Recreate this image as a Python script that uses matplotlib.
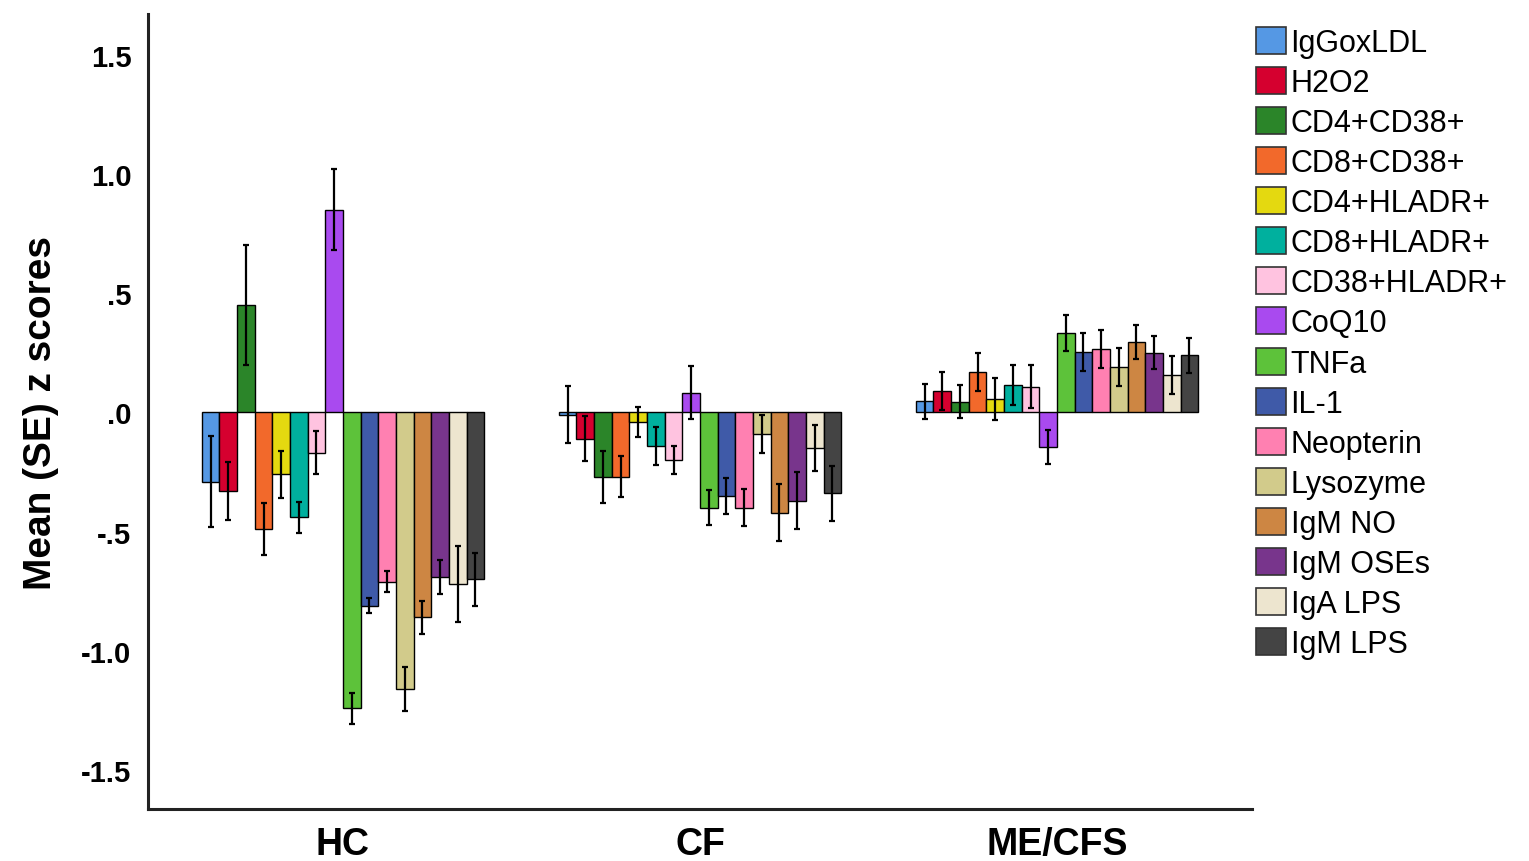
import numpy as np
import matplotlib
matplotlib.use('Agg')
import matplotlib.pyplot as plt
from matplotlib.patches import Patch

plt.rcParams['font.family'] = ['Liberation Sans', 'DejaVu Sans']

# 数据
groups = ['HC', 'CF', 'ME/CFS']
markers = ['IgGoxLDL', 'H2O2', 'CD4+CD38+', 'CD8+CD38+', 'CD4+HLADR+', 'CD8+HLADR+',
           'CD38+HLADR+', 'CoQ10', 'TNFa', 'IL-1', 'Neopterin', 'Lysozyme',
           'IgM NO', 'IgM OSEs', 'IgA LPS', 'IgM LPS']
colors = ['#5598E4', '#D5002F', '#2B8529', '#F2692B', '#E4D910', '#00B09E',
          '#FFC3E0', '#A94AEF', '#5DC23A', '#3F5AA8', '#FF80B1', '#D2CB8B',
          '#CD8643', '#78358C', '#EDE5CF', '#444444']

hc_mean = [-0.29, -0.33, 0.45, -0.49, -0.26, -0.44, -0.17, 0.85,
           -1.24, -0.81, -0.71, -1.16, -0.86, -0.69, -0.72, -0.70]
hc_se = [0.19, 0.12, 0.25, 0.11, 0.10, 0.066, 0.09, 0.17,
         0.065, 0.032, 0.043, 0.092, 0.07, 0.073, 0.16, 0.112]

cf_mean = [-0.01, -0.11, -0.27, -0.27, -0.04, -0.14, -0.20, 0.083,
           -0.40, -0.35, -0.40, -0.09, -0.42, -0.37, -0.15, -0.34]
cf_se = [0.12, 0.095, 0.11, 0.085, 0.063, 0.08, 0.06, 0.11,
         0.073, 0.075, 0.077, 0.08, 0.12, 0.12, 0.095, 0.115]

me_mean = [0.047, 0.089, 0.045, 0.169, 0.056, 0.114, 0.107, -0.145,
           0.334, 0.254, 0.265, 0.19, 0.295, 0.25, 0.156, 0.24]
me_se = [0.073, 0.08, 0.07, 0.08, 0.088, 0.084, 0.09, 0.073,
         0.075, 0.08, 0.08, 0.08, 0.07, 0.07, 0.08, 0.073]

yticks = [-1.5, -1.0, -0.5, 0.0, 0.5, 1.0, 1.5]
ytick_labels = ['-1.5', '-1.0', '-.5', '.0', '.5', '1.0', '1.5']

means = np.array([hc_mean, cf_mean, me_mean])
ses = np.array([hc_se, cf_se, me_se])

fig = plt.figure(figsize=(15.29, 8.62), dpi=100)
ax = fig.add_axes([0.0968, 0.0603, 0.7220, 0.9223])

n = len(markers)
group_w = 0.791
bar_w = group_w / n
x = np.arange(len(groups))

for i in range(n):
    pos = x - group_w / 2 + bar_w * (i + 0.5)
    ax.bar(pos, means[:, i], width=bar_w, color=colors[i], edgecolor='black',
           linewidth=1.0, zorder=2)
    ax.errorbar(pos, means[:, i], yerr=ses[:, i], fmt='none', ecolor='black',
                elinewidth=1.6, capsize=2, capthick=1.6, zorder=3)

ax.set_xlim(-0.546, 2.546)
ax.set_ylim(-1.663, 1.670)
ax.set_xticks(x)
ax.set_xticklabels(groups, fontsize=27, fontweight='bold')
ax.set_yticks(yticks)
ax.set_yticklabels(ytick_labels, fontsize=21, fontweight='bold')
ax.tick_params(axis='both', length=0)
ax.tick_params(axis='x', pad=12)
ax.tick_params(axis='y', pad=12)
ax.set_ylabel('Mean (SE) z scores', fontsize=28, fontweight='bold', labelpad=16)

for s in ['top', 'right']:
    ax.spines[s].set_visible(False)
for s in ['left', 'bottom']:
    ax.spines[s].set_linewidth(2.2)
    ax.spines[s].set_color('#222222')

handles = [Patch(facecolor=c, edgecolor='#333333', linewidth=1.2) for c in colors]
fig.legend(handles, markers, loc='upper left', bbox_to_anchor=(0.8215, 0.968),
           frameon=False, fontsize=22, handlelength=0.98, handleheight=0.98,
           handletextpad=0.15, labelspacing=0.30, borderpad=0, borderaxespad=0)

fig.savefig('out.png', dpi=100)
